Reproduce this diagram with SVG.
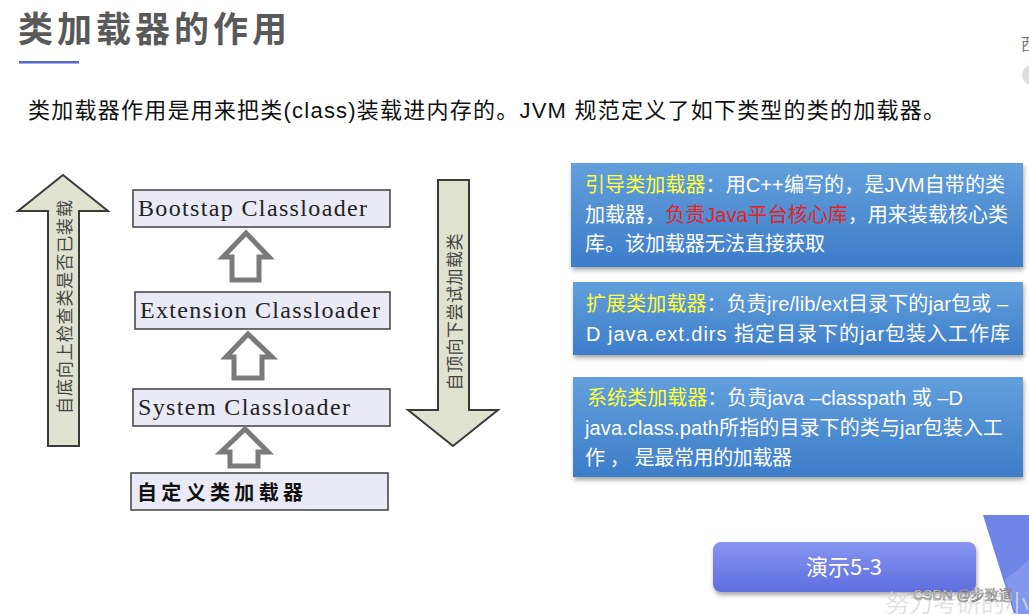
<svg xmlns="http://www.w3.org/2000/svg" width="1029" height="614" viewBox="0 0 1029 614">
<defs>
<linearGradient id="blueBox" x1="0" y1="0" x2="0" y2="1">
<stop offset="0" stop-color="#629fdc"/>
<stop offset="1" stop-color="#3d7dc9"/>
</linearGradient>
<linearGradient id="btn" x1="0" y1="0" x2="0" y2="1">
<stop offset="0" stop-color="#8896f0"/>
<stop offset="1" stop-color="#5f6de0"/>
</linearGradient>
<filter id="sh" x="-5%" y="-10%" width="110%" height="130%">
<feDropShadow dx="1" dy="3" stdDeviation="2" flood-color="#000" flood-opacity="0.35"/>
</filter>
</defs>
<style>
.title{font-family:"Noto Sans CJK SC","Noto Sans",sans-serif;font-weight:bold;font-size:35px;fill:#595959;letter-spacing:4px}
.sub{font-family:"Liberation Sans","Noto Sans CJK SC",sans-serif;font-size:22px;fill:#111}
.lbox{fill:#e9eaf6;stroke:#4a4a4a;stroke-width:1.6}
.serif{font-family:"Liberation Serif","Noto Serif",serif;font-size:24px;fill:#222}
.custom{font-family:"Noto Sans CJK SC",sans-serif;font-weight:bold;font-size:20px;fill:#111}
.big{fill:#dfe2cf;stroke:#3a3a3a;stroke-width:2}
.vtext{font-family:"Noto Sans CJK SC",serif;font-size:17px;fill:#444}
.hollow{fill:#fff;stroke:#7a7a7a;stroke-width:5;stroke-linejoin:miter}
.bbox{fill:url(#blueBox)}
.bt{font-family:"Liberation Sans","Noto Sans CJK SC",sans-serif;font-size:20px;fill:#fff}
.y{fill:#ffff3a}
.r{fill:#e52222}
</style>
<rect width="1029" height="614" fill="#fff"/>

<g id="title">
<text class="title" x="18" y="42">类加载器的作用</text>
<rect x="19" y="61" width="60" height="2.5" fill="#5567cf"/>
</g>
<text class="sub" x="28" y="118" textLength="917" lengthAdjust="spacing">类加载器作用是用来把类(class)装载进内存的。JVM 规范定义了如下类型的类的加载器。</text>

<g id="up-arrow">
<polygon class="big" points="63,175 108,211 79,211 79,446 48,446 48,211 18,211"/>
<text class="vtext" transform="translate(71,307) rotate(-90)" text-anchor="middle" textLength="214">自底向上检查类是否已装载</text>
</g>
<g id="down-arrow">
<polygon class="big" points="438,180 469,180 469,410 498,410 453,446 408,410 438,410"/>
<text class="vtext" transform="translate(461,312) rotate(-90)" text-anchor="middle" textLength="157">自顶向下尝试加载类</text>
</g>

<g id="bootstrap">
<rect class="lbox" x="133" y="190" width="257" height="37"/>
<text class="serif" x="138" y="216" textLength="229">Bootstap Classloader</text>
</g>
<g id="extension">
<rect class="lbox" x="135" y="292" width="255" height="37"/>
<text class="serif" x="140" y="318" textLength="240">Extension Classloader</text>
</g>
<g id="system">
<rect class="lbox" x="133" y="389" width="257" height="37"/>
<text class="serif" x="138" y="415" textLength="212">System Classloader</text>
</g>
<g id="custom">
<rect class="lbox" x="131" y="473" width="257" height="37"/>
<text class="custom" x="137" y="500" textLength="166">自定义类加载器</text>
</g>

<g id="connectors">
<polygon class="hollow" points="246,233 269,257 259,257 259,280 232,280 232,257 223,257"/>
<polygon class="hollow" points="248,334 272,357 262,357 262,378 234,378 234,357 226,357"/>
<polygon class="hollow" points="245,429 268,452 258,452 258,466 230,466 230,452 221,452"/>
</g>

<g id="bootstrap-desc">
<rect class="bbox" x="571" y="163" width="452" height="104" filter="url(#sh)"/>
<text class="bt" x="585" y="192" textLength="420"><tspan class="y">引导类加载器</tspan>：用C++编写的，是JVM自带的类</text>
<text class="bt" x="585" y="222" textLength="423">加载器，<tspan class="r">负责Java平台核心库</tspan>，用来装载核心类</text>
<text class="bt" x="585" y="251">库。该加载器无法直接获取</text>
</g>
<g id="extension-desc">
<rect class="bbox" x="573" y="282" width="450" height="73" filter="url(#sh)"/>
<text class="bt" x="586" y="311" textLength="422"><tspan class="y">扩展类加载器</tspan>：负责jre/lib/ext目录下的jar包或 –</text>
<text class="bt" x="586" y="341" textLength="424">D java.ext.dirs 指定目录下的jar包装入工作库</text>
</g>
<g id="system-desc">
<rect class="bbox" x="573" y="377" width="450" height="100" filter="url(#sh)"/>
<text class="bt" x="587" y="405" textLength="376"><tspan class="y">系统类加载器</tspan>：负责java –classpath 或 –D</text>
<text class="bt" x="585" y="435" textLength="418">java.class.path所指的目录下的类与jar包装入工</text>
<text class="bt" x="585" y="465" textLength="207">作 ， 是最常用的加载器</text>
</g>

<g id="demo-button">
<rect x="713" y="542" width="263" height="50" rx="8" fill="url(#btn)" filter="url(#sh)"/>
<text x="844" y="575" text-anchor="middle" font-family="Noto Sans CJK SC,sans-serif" font-size="22" fill="#fff">演示5-3</text>
</g>

<polygon points="983,515 1029,515 1029,614 1014,614" fill="#6e84e6"/>
<polygon points="1005,580 1029,560 1029,614 1016,614" fill="#8fa0ee" opacity="0.7"/>
<text x="885" y="612" font-family="Noto Sans CJK SC,sans-serif" font-size="24" fill="#d8d8e0" opacity="0.8">努力考研的小狂</text>
<text x="913" y="600" font-family="Liberation Sans,Noto Sans CJK SC,sans-serif" font-size="14" fill="#fff" stroke="#777" stroke-width="0.6">CSDN @步致道</text>

<text x="1021" y="50" font-family="Noto Sans CJK SC,sans-serif" font-size="16" fill="#777">西</text>
<circle cx="1032" cy="75" r="10" fill="#dcdcdc"/>
</svg>
